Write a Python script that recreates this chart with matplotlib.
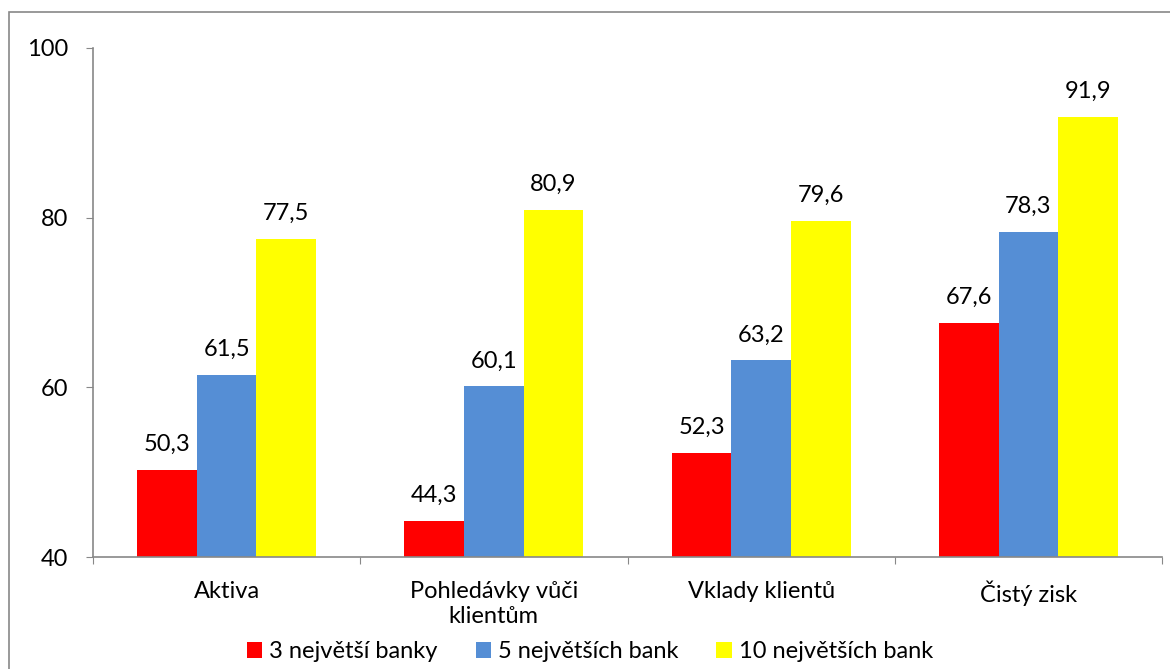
import matplotlib.pyplot as plt
import numpy as np
from matplotlib.patches import Rectangle

categories = ["Aktiva", "Pohledávky vůči\nklientům", "Vklady klientů", "Čistý zisk"]
series_names = ["3 největší banky", "5 největších bank", "10 největších bank"]
top3 = [50.3, 44.3, 52.3, 67.6]
top5 = [61.5, 60.1, 63.2, 78.3]
top10 = [77.5, 80.9, 79.6, 91.9]
colors = ["#FF0000", "#558ED5", "#FFFF00"]

plt.rcParams["font.family"] = ["Lato", "DejaVu Sans"]
FS = 17

W, H = 1170, 669
fig = plt.figure(figsize=(W / 100, H / 100), dpi=100)
ax = fig.add_axes([93 / W, 1 - 557 / H, (1162 - 93) / W, (557 - 48) / H])

x = np.arange(len(categories))
width = 0.223
for i, (vals, name, c) in enumerate(zip([top3, top5, top10], series_names, colors)):
    pos = x + (i - 1) * width
    ax.bar(pos, [v - 40 for v in vals], width, bottom=40, color=c, label=name)
    for p, v in zip(pos, vals):
        ax.annotate(f"{v:.1f}".replace(".", ","), (p, v), xytext=(0, 13.5),
                    textcoords="offset points", ha="center", va="baseline",
                    fontsize=FS)

ax.set_xlim(-0.5, len(categories) - 0.5)
ax.set_ylim(40, 100)
ax.set_yticks([40, 60, 80, 100])
ax.tick_params(axis="y", labelsize=FS, length=5, color="#888888", pad=13)
ax.set_xticks(np.arange(-0.5, len(categories), 1))
ax.set_xticklabels([])
ax.set_xticks(x, minor=True)
ax.set_xticklabels(categories, minor=True, fontsize=FS, linespacing=1.25)
ax.tick_params(axis="x", which="major", length=5, color="#888888", direction="out")
ax.tick_params(axis="x", which="minor", length=0, pad=17)
for s in ["top", "right"]:
    ax.spines[s].set_visible(False)
for s in ["left", "bottom"]:
    ax.spines[s].set_color("#888888")
    ax.spines[s].set_linewidth(1.2)

fig.legend(loc="center", bbox_to_anchor=(590 / W, 1 - 652 / H), ncol=3,
           frameon=False, fontsize=FS, handlelength=0.65, handleheight=0.65,
           columnspacing=1.6, handletextpad=0.3, borderpad=0, borderaxespad=0)

fig.patches.append(Rectangle((9 / W, -0.1), 1.2, 1 - 12 / H + 0.1,
                             transform=fig.transFigure, fill=False,
                             edgecolor="#888888", linewidth=1.2))

fig.savefig("out.png", dpi=100)
